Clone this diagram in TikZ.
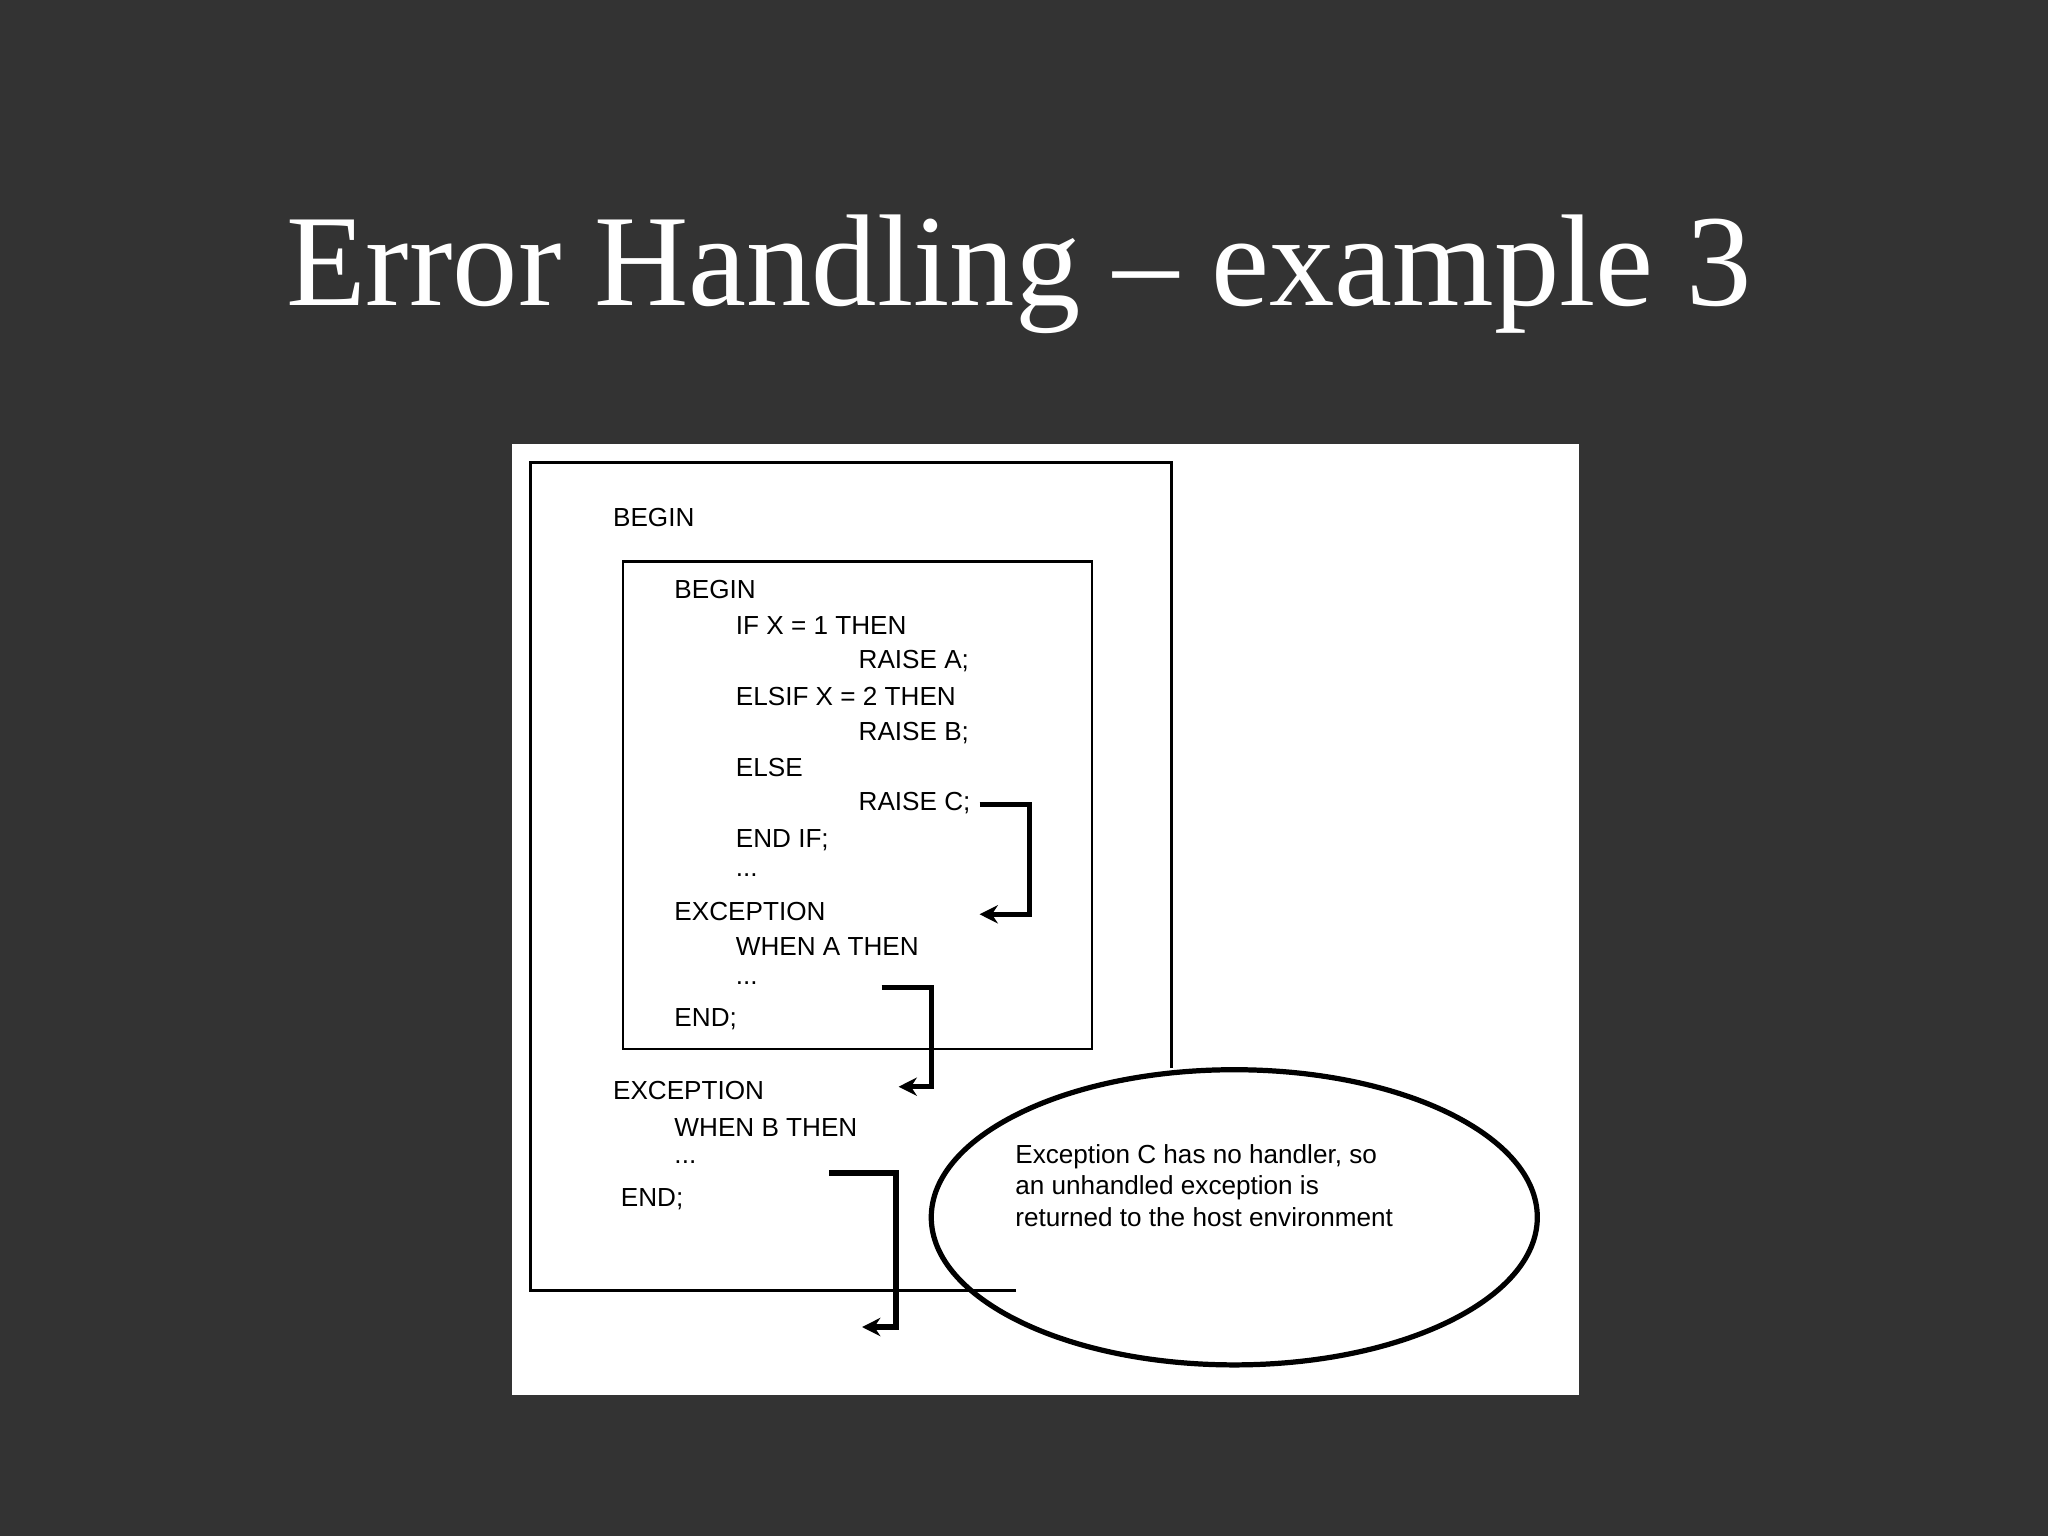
\documentclass[tikz,border=0pt]{standalone}
\usepackage{fontspec}
\setmainfont{Liberation Serif}
\newfontfamily\codefont{Liberation Sans}
\usetikzlibrary{arrows.meta}
\begin{document}
\begin{tikzpicture}[x=0.5pt,y=-0.5pt,
  code/.style={anchor=west,inner sep=0pt,font=\codefont\fontsize{10}{12}\selectfont},
  flow/.style={line width=2pt,-{Stealth[length=7pt,width=7pt]}}]
\fill[fill={rgb,255:red,51;green,51;blue,51}] (0,0) rectangle (1568,1176);
\useasboundingbox (0,0) rectangle (1568,1176);
\node[text=white,font=\fontsize{50}{60}\selectfont] (title) at (780,210) {Error Handling -- example 3};
\fill[white] (392,340) rectangle (1209,1068);
\draw[line width=1pt] (778,988)--(406,988)--(406,354)--(897,354)--(897,818);
\draw[line width=1pt] (477,430) rectangle (836,803);
\node[code] (b1) at (469,396) {BEGIN};
\node[code] (b2) at (516,451) {BEGIN};
\node[code] (l1) at (563,479) {IF X = 1 THEN};
\node[code] (l2) at (657,506) {RAISE A;};
\node[code] (l3) at (563,533) {ELSIF X = 2 THEN};
\node[code] (l4) at (657,561) {RAISE B;};
\node[code] (l5) at (563,588) {ELSE};
\node[code] (rc) at (657,615) {RAISE C;};
\node[code] (l7) at (563,643) {END IF;};
\node[code] (l8) at (563,670) {...};
\node[code] (ex1) at (516,698) {EXCEPTION};
\node[code] (wa) at (563,725) {WHEN A THEN};
\node[code] (d1) at (563,753) {...};
\node[code] (e1) at (516,780) {END;};
\node[code] (ex2) at (469,835) {EXCEPTION};
\node[code] (wb) at (516,863) {WHEN B THEN};
\node[code] (d2) at (516,890) {...};
\node[code] (e2) at (475,918) {END;};
\draw[line width=2pt] (945,932) ellipse [x radius=232,y radius=113];
\node[code,align=left,anchor=north west] (note) at (777,876) {Exception C has no handler, so\\an unhandled exception is\\returned to the host environment};
\coordinate (a1s) at (750,616); \coordinate (a1e) at (750,700);
\coordinate (a2s) at (675,756); \coordinate (a2e) at (688,832);
\coordinate (a3s) at (635,898); \coordinate (a3e) at (660,1016);
\draw[flow] (a1s)--(788,616)--(788,700)--(a1e);
\draw[flow] (a2s)--(713,756)--(713,832)--(a2e);
\draw[flow] (a3s)--(686,898)--(686,1016)--(a3e);
\end{tikzpicture}
\end{document}
